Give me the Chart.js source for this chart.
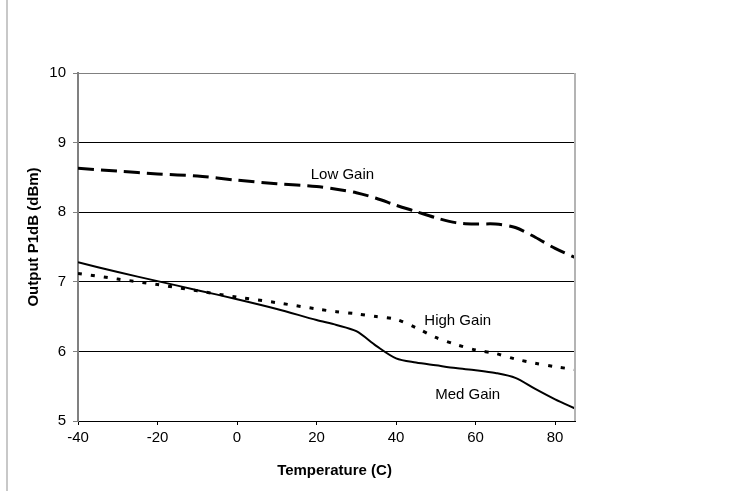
<!DOCTYPE html>
<html>
<head>
<meta charset="utf-8">
<script src="https://cdn.jsdelivr.net/npm/chart.js@4.4.0/dist/chart.umd.min.js"></script>
<style>
  html, body { margin: 0; padding: 0; background: #fff; }
  .wrap { position: relative; width: 729px; height: 491px; }
  .edge { position: absolute; left: 6px; top: 0; width: 2px; height: 491px; background: #c8c8c8; }
</style>
</head>
<body>
<div class="wrap">
  <div class="edge"></div>
  <canvas id="chart" width="729" height="491"></canvas>
</div>
<script>
// temperature points (C)
const temps = [-40, -30, -20, -10, 0, 10, 20, 25, 30, 35, 40, 45, 50, 55, 60, 65, 70, 75, 80, 85];

// Output P1dB (dBm)
const lowGain  = [8.63, 8.59, 8.55, 8.52, 8.46, 8.41, 8.37, 8.33, 8.28, 8.20, 8.10, 8.01, 7.92, 7.85, 7.83, 7.83, 7.78, 7.64, 7.48, 7.35];
const highGain = [7.12, 7.04, 6.96, 6.87, 6.78, 6.70, 6.61, 6.57, 6.54, 6.50, 6.46, 6.34, 6.20, 6.10, 6.02, 5.97, 5.89, 5.83, 5.78, 5.74];
const medGain  = [7.28, 7.14, 7.01, 6.88, 6.75, 6.61, 6.45, 6.38, 6.29, 6.08, 5.90, 5.84, 5.80, 5.76, 5.73, 5.69, 5.62, 5.46, 5.31, 5.18];

// curve labels, placed in data units
const curveLabels = [
  { text: 'Low Gain',  x: 26.5, y: 8.53 },
  { text: 'High Gain', x: 55.5, y: 6.44 },
  { text: 'Med Gain',  x: 58,   y: 5.38 }
];

const xTicks = [-40, -20, 0, 20, 40, 60, 80];
const xTitle = 'Temperature (C)';
const yTitle = 'Output P1dB (dBm)';

const toPts = (vals) => temps.map((t, i) => ({ x: t, y: vals[i] }));

const FONT = 'Arial, "Liberation Sans", Helvetica, sans-serif';

// right border, curve names and axis titles
const extras = {
  id: 'extras',
  afterDatasetsDraw(chart) {
    const { ctx, chartArea, scales } = chart;
    ctx.save();
    ctx.strokeStyle = '#b4b4b4';
    ctx.lineWidth = 2;
    ctx.beginPath();
    ctx.moveTo(chartArea.right, chartArea.top);
    ctx.lineTo(chartArea.right, chartArea.bottom);
    ctx.stroke();

    ctx.fillStyle = '#000';
    ctx.font = '15px ' + FONT;
    ctx.textAlign = 'center';
    ctx.textBaseline = 'middle';
    curveLabels.forEach(l => {
      ctx.fillText(l.text, scales.x.getPixelForValue(l.x), scales.y.getPixelForValue(l.y));
    });

    // axis titles (sit slightly off the plot centre, as in the original)
    ctx.font = 'bold 15px ' + FONT;
    const cx = (chartArea.left + chartArea.right) / 2 + 8;
    ctx.fillText(xTitle, cx, chartArea.bottom + 50);
    const cy = (chartArea.top + chartArea.bottom) / 2 - 10;
    ctx.translate(34, cy);
    ctx.rotate(-Math.PI / 2);
    ctx.fillText(yTitle, 0, 0);
    ctx.restore();
  }
};

new Chart(document.getElementById('chart').getContext('2d'), {
  type: 'line',
  data: {
    datasets: [
      {
        label: 'Low Gain',
        data: toPts(lowGain),
        borderColor: '#000',
        borderWidth: 3,
        borderDash: [16, 7],
        pointRadius: 0,
        tension: 0.3,
        fill: false
      },
      {
        label: 'High Gain',
        data: toPts(highGain),
        borderColor: '#000',
        borderWidth: 3,
        borderDash: [4, 9],
        pointRadius: 0,
        tension: 0.3,
        fill: false
      },
      {
        label: 'Med Gain',
        data: toPts(medGain),
        borderColor: '#000',
        borderWidth: 2,
        pointRadius: 0,
        tension: 0.3,
        fill: false
      }
    ]
  },
  options: {
    responsive: false,
    animation: false,
    layout: { padding: { top: 73, right: 154, left: 0, bottom: 0 } },
    plugins: {
      legend: { display: false },
      tooltip: { enabled: false }
    },
    scales: {
      x: {
        type: 'linear',
        min: -40,
        max: 85,
        afterFit: (s) => { s.height = 70; },
        afterBuildTicks: (s) => { s.ticks = xTicks.map(v => ({ value: v })); },
        border: { color: '#000', width: 1 },
        grid: { drawOnChartArea: false, drawTicks: true, tickLength: 4, tickColor: '#000' },
        ticks: { color: '#000', font: { family: FONT, size: 15 }, padding: 4, maxRotation: 0 }
      },
      y: {
        min: 5,
        max: 10,
        afterFit: (s) => { s.width = 78; },
        border: { color: '#808080', width: 2 },
        grid: {
          color: (c) => c.tick && c.tick.value === 10 ? '#808080' : '#000',
          lineWidth: 1,
          tickLength: 5,
          tickColor: '#808080'
        },
        ticks: { stepSize: 1, color: '#000', font: { family: FONT, size: 15 }, padding: 7 }
      }
    }
  },
  plugins: [extras]
});
</script>
</body>
</html>
